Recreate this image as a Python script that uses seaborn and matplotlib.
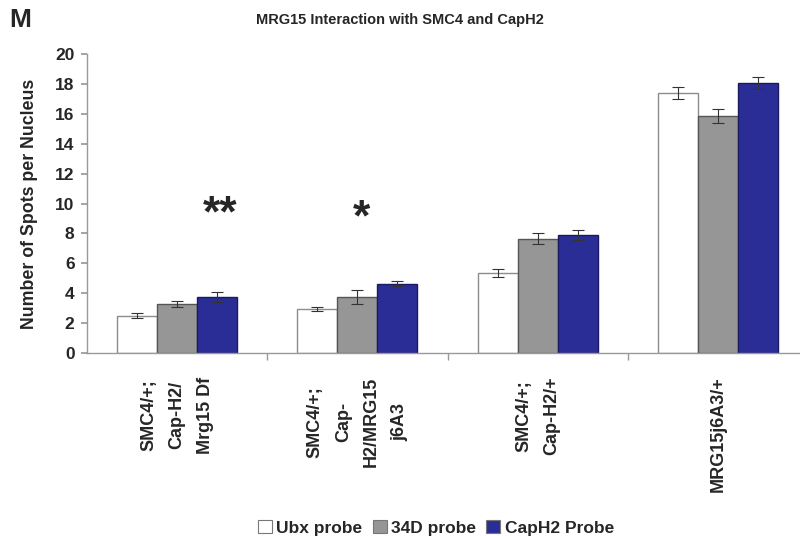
import pandas as pd
import matplotlib.pyplot as plt
import seaborn as sns
from matplotlib.patches import Patch

# --- data ---
genotypes = ["SMC4/+;\nCap-H2/\nMrg15 Df",
             "SMC4/+;\nCap-\nH2/MRG15\nj6A3",
             "SMC4/+;\nCap-H2/+",
             "MRG15j6A3/+"]
probes = ["Ubx probe", "34D probe", "CapH2 Probe"]
ubx_mean = [2.49, 2.93, 5.38, 17.4]
ubx_err = [0.18, 0.15, 0.27, 0.41]
d34_mean = [3.29, 3.75, 7.65, 15.86]
d34_err = [0.19, 0.47, 0.37, 0.46]
caph2_mean = [3.73, 4.64, 7.91, 18.07]
caph2_err = [0.33, 0.18, 0.33, 0.42]
stars = ["**", "*"]

colors = ["#ffffff", "#969696", "#2b2d96"]
edges = ["#8c8c8c", "#555555", "#1a1a60"]

rows = []
for probe, means, errs in zip(probes, [ubx_mean, d34_mean, caph2_mean],
                              [ubx_err, d34_err, caph2_err]):
    for g, m, e in zip(genotypes, means, errs):
        rows.append({"genotype": g, "probe": probe, "mean": m, "err": e})
df = pd.DataFrame(rows)

sns.set_theme(style="white")
plt.rcParams["font.family"] = ["Liberation Sans", "DejaVu Sans"]
plt.rcParams["font.weight"] = "bold"

fig = plt.figure(figsize=(8, 5.36), dpi=100)
ax = fig.add_axes([87 / 800, (536 - 353) / 536, 721 / 800, 299 / 536])

sns.barplot(data=df, x="genotype", y="mean", hue="probe", order=genotypes,
            hue_order=probes, palette=colors, errorbar=None, width=0.667,
            saturation=1, legend=False, ax=ax)

# colour edges and error bars per probe
for i, (probe, container) in enumerate(zip(probes, ax.containers)):
    sub = df[df["probe"] == probe].set_index("genotype").loc[genotypes]
    xs = []
    for bar in container:
        bar.set_edgecolor(edges[i])
        bar.set_linewidth(1.0)
        xs.append(bar.get_x() + bar.get_width() / 2)
    ax.errorbar(xs, sub["mean"], yerr=sub["err"], fmt="none", ecolor="#333333",
                elinewidth=0.8, capsize=4, capthick=0.8, zorder=5)

# significance markers
ax.text(0.24, 9.25, stars[0], ha="center", va="center", fontsize=32, fontweight="bold")
ax.text(1.02, 9.0, stars[1], ha="center", va="center", fontsize=32, fontweight="bold")

ax.set_ylim(0, 20)
ax.set_yticks(range(0, 21, 2))
ax.set_xlim(-0.5, 3.5)
ax.set_xlabel("")
ax.set_ylabel("Number of Spots per Nucleus", fontsize=12.8, fontweight="bold", labelpad=12)
ax.tick_params(axis="y", labelsize=12.5, length=4, color="#999999", left=True,
               direction="out", pad=5)
for lab in ax.get_yticklabels():
    lab.set_fontweight("bold")

ax.set_xticks(range(len(genotypes)))
ax.set_xticklabels(genotypes, rotation=90, ha="center", va="top",
                   multialignment="center", linespacing=1.85,
                   fontsize=13, fontweight="bold")
ax.tick_params(axis="x", which="major", length=0, pad=17)
ax.set_xticks([0.5, 1.5, 2.5], minor=True)
ax.tick_params(axis="x", which="minor", length=5, color="#999999",
               direction="out", bottom=True)

for side in ["top", "right"]:
    ax.spines[side].set_visible(False)
for side in ["left", "bottom"]:
    ax.spines[side].set_color("#999999")
    ax.spines[side].set_linewidth(1.0)

fig.text(0.5, 0.962, "MRG15 Interaction with SMC4 and CapH2", ha="center",
         va="center", fontsize=10.5, fontweight="bold")
fig.text(0.012, 0.962, "M", ha="left", va="center", fontsize=19, fontweight="bold")

handles = [Patch(facecolor=c, edgecolor="#777777", linewidth=0.8) for c in colors]
fig.legend(handles, probes, loc="center", bbox_to_anchor=(0.545, 0.015), ncol=3,
           frameon=False, handlelength=0.8, handleheight=0.8, handletextpad=0.25,
           columnspacing=0.6, prop={"size": 12.5, "weight": "bold"})

fig.savefig("out.png", dpi=100)
